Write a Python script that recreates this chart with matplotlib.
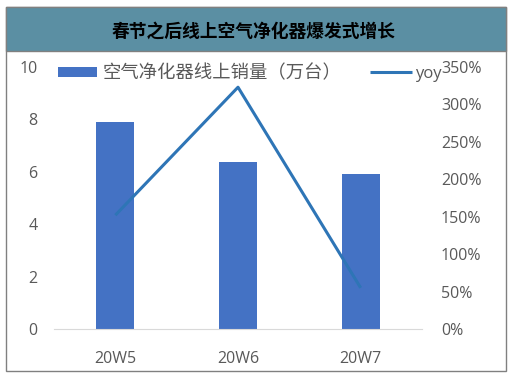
import matplotlib.pyplot as plt
from matplotlib.patches import Rectangle

plt.rcParams['font.family'] = ['Open Sans', 'Noto Sans CJK SC', 'DejaVu Sans']

# data
weeks = ["20W5", "20W6", "20W7"]
sales = [7.9, 6.37, 5.9]          # 万台
yoy = [1.52, 3.23, 0.55]          # growth rate

title = "春节之后线上空气净化器爆发式增长"
bar_label = "空气净化器线上销量（万台）"
line_label = "yoy"

fig = plt.figure(figsize=(5.22, 3.76), dpi=100)

# outer frame and title band
W, H = 522, 376
fig.patches.append(Rectangle((6 / W, 1 - 371 / H), 500 / W, 364 / H, transform=fig.transFigure,
                             facecolor="white", edgecolor="#808080", lw=1, zorder=-2))
fig.patches.append(Rectangle((6 / W, 1 - 50.5 / H), 500 / W, 43.5 / H, transform=fig.transFigure,
                             facecolor="#5B8FA3", edgecolor="#808080", lw=1, zorder=-1))
fig.text(254 / W, 1 - 31.5 / H, title, ha="center", va="center", fontsize=12.8,
         fontweight="bold", family=["Noto Sans CJK SC"], color="black")

ax = fig.add_axes([54 / W, 1 - 329 / H, 368 / W, 262 / H])
ax.patch.set_alpha(0)
x = list(range(len(weeks)))
ax.bar(x, sales, width=0.31, color="#4472C4", label=bar_label, zorder=2)
ax.set_xlim(-0.5, 2.5)
ax.set_ylim(0, 10)
ax.set_yticks([0, 2, 4, 6, 8, 10])
ax.set_xticks(x)
ax.set_xticklabels(weeks)
for s in ["top", "right", "left"]:
    ax.spines[s].set_visible(False)
ax.spines["bottom"].set_color("#D9D9D9")
ax.tick_params(axis="both", length=0, labelsize=11.5, colors="#595959")
ax.tick_params(axis="y", pad=12)
ax.tick_params(axis="x", pad=15.5)

ax2 = ax.twinx()
ax2.plot(x, yoy, color="#2E75B6", lw=2.2, label=line_label, solid_capstyle="butt")
ax2.set_ylim(0, 3.5)
ax2.set_yticks([0, 0.5, 1, 1.5, 2, 2.5, 3, 3.5])
ax2.set_yticklabels([f"{int(round(v * 100))}%" for v in ax2.get_yticks()])
for s in ax2.spines.values():
    s.set_visible(False)
ax2.tick_params(axis="y", length=0, labelsize=11.5, colors="#595959", pad=13.7)

leg1 = ax.legend(loc="center left", bbox_to_anchor=(0.011, 0.975), frameon=False,
                 borderpad=0, borderaxespad=0,
                 handlelength=2.1, handleheight=0.42, handletextpad=0.33,
                 prop={"family": "Noto Sans CJK SC", "size": 13.2})
for t in leg1.get_texts():
    t.set_color("#595959")
leg2 = ax2.legend(loc="center left", bbox_to_anchor=(0.859, 0.975), frameon=False,
                  borderpad=0, borderaxespad=0,
                  handlelength=2.5, handletextpad=0.18, prop={"size": 12})
for t in leg2.get_texts():
    t.set_color("#595959")

fig.savefig("out.png", dpi=100)
